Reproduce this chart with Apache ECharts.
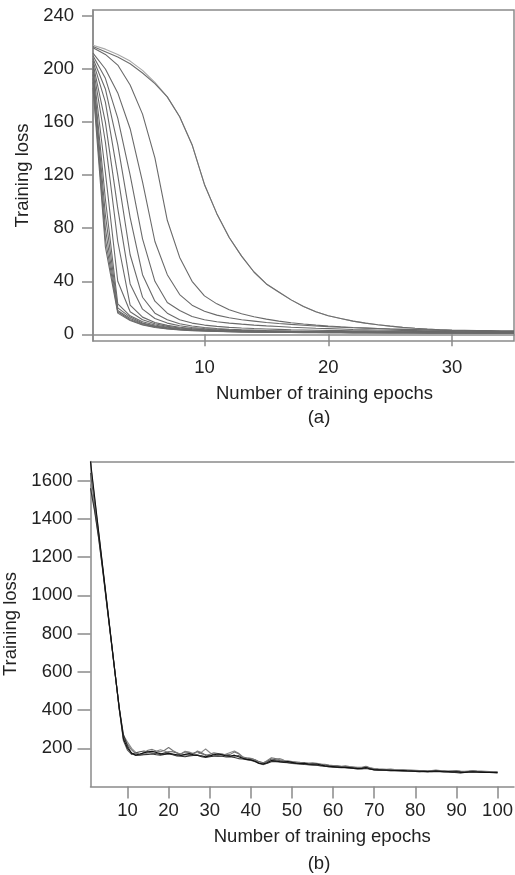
<!DOCTYPE html>
<html>
<head>
<meta charset="utf-8">
<script src="https://cdn.jsdelivr.net/npm/echarts@6/dist/echarts.min.js"></script>
<style>
html,body{margin:0;padding:0;background:#fff;}
#chart{width:515px;height:875px;}
</style>
</head>
<body>
<div id="chart"></div>
<script>
// ---------- Panel (a): training loss vs epoch, epochs 1..35 ----------
const epochsA = Array.from({length: 35}, (_, i) => i + 1);
const lossA_A  = [217,213,209,204,197,189,179,164,143,113,91,73,59,47,38,32,26,21,17,14,12,10,8.5,7.3,6.2,5.3,4.6,4,3.5,3.1,2.8,2.5,2.3,2.1,2];
const lossA_A2 = [218,215,211,206,199,190,179,164,143,113,91,73,59,47,38,32,26,21,17,14,12,10,8.5,7.3,6.2,5.3,4.6,4,3.5,3.1,2.8,2.5,2.3,2.1,2];
const lossA_B  = [216,211,203,188,166,133,86,58,40,29,23,18.5,15.5,13.3,11.5,10,8.8,7.8,7,6.3,5.7,5.2,4.8,4.4,4.1,3.8,3.5,3.3,3.1,2.9,2.7,2.6,2.5,2.4,2.3];
const lossA_F11 = [212,200,182,155,115,70,45,30,22,17.5,14.5,12.5,11,10,9,8.2,7.5,6.9,6.3,5.8,5.4,5,4.7,4.4,4.1,3.9,3.7,3.5,3.3,3.1,3,2.9,2.8,2.7,2.6];
const lossA_F10 = [210,193,163,120,72,40,24,18,13.5,11,9.5,8.5,7.7,7,6.4,5.9,5.4,5,4.6,4.3,4,3.7,3.5,3.3,3.1,2.9,2.8,2.7,2.6,2.5,2.4,2.3,2.2,2.2,2.1];
const lossA_F9 = [208,185,143,88,45,25,16,11,8.5,7,6,5.3,4.8,4.4,4.1,3.8,3.5,3.3,3.1,2.9,2.8,2.7,2.6,2.5,2.4,2.3,2.2,2.2,2.1,2.1,2,2,2,1.9,1.9];
const lossA_F8 = [206,175,120,60,28,16,11,8,6.3,5.2,4.4,3.9,3.5,3.2,2.9,2.7,2.5,2.4,2.3,2.2,2.1,2,2,1.9,1.9,1.8,1.8,1.8,1.7,1.7,1.7,1.6,1.6,1.6,1.6];
const lossA_F7 = [204,160,95,38,19,12,8.5,6.5,5.2,4.4,3.8,3.4,3.1,2.8,2.6,2.4,2.3,2.2,2.1,2,1.9,1.9,1.8,1.8,1.7,1.7,1.7,1.6,1.6,1.6,1.5,1.5,1.5,1.5,1.4];
const lossA_F6 = [202,145,70,22,13,9,6.8,5.4,4.4,3.8,3.3,3,2.7,2.5,2.3,2.2,2.1,2,1.9,1.8,1.8,1.7,1.7,1.6,1.6,1.6,1.5,1.5,1.5,1.4,1.4,1.4,1.4,1.3,1.3];
const lossA_F5 = [200,122,40,17,11,8,6,4.8,4,3.4,3,2.7,2.5,2.3,2.1,2,1.9,1.8,1.8,1.7,1.7,1.6,1.6,1.5,1.5,1.5,1.4,1.4,1.4,1.3,1.3,1.3,1.3,1.2,1.2];
const lossA_F4 = [198,102,23,14,9.5,7,5.4,4.3,3.6,3.1,2.8,2.5,2.3,2.1,2,1.9,1.8,1.7,1.7,1.6,1.6,1.5,1.5,1.4,1.4,1.4,1.3,1.3,1.3,1.2,1.2,1.2,1.2,1.1,1.1];
const lossA_F3 = [196,90,20,13,8.5,6.3,4.9,3.9,3.3,2.9,2.6,2.3,2.1,2,1.9,1.8,1.7,1.6,1.6,1.5,1.5,1.4,1.4,1.3,1.3,1.3,1.2,1.2,1.2,1.2,1.1,1.1,1.1,1.1,1.0];
const lossA_F2 = [193,80,18,12,8,6,4.6,3.7,3.1,2.7,2.4,2.2,2,1.9,1.8,1.7,1.6,1.5,1.5,1.4,1.4,1.3,1.3,1.3,1.2,1.2,1.2,1.1,1.1,1.1,1.1,1,1,1,1];
const lossA_F1 = [190,72,17,11,7.5,5.5,4.3,3.5,3,2.6,2.3,2.1,1.9,1.8,1.7,1.6,1.5,1.4,1.4,1.3,1.3,1.2,1.2,1.2,1.1,1.1,1.1,1,1,1,1,0.9,0.9,0.9,0.9];
const lossA_F0 = [186,66,16,10.5,7,5.2,4.1,3.3,2.8,2.5,2.2,2,1.8,1.7,1.6,1.5,1.4,1.3,1.3,1.2,1.2,1.1,1.1,1.1,1,1,1,0.9,0.9,0.9,0.9,0.8,0.8,0.8,0.8];
const seriesA = [lossA_A2, lossA_A, lossA_B, lossA_F11, lossA_F10, lossA_F9, lossA_F8, lossA_F7, lossA_F6, lossA_F5, lossA_F4, lossA_F3, lossA_F2, lossA_F1, lossA_F0];
const yTicksA = [0, 40, 80, 120, 160, 200, 240];
const xTicksA = [10, 20, 30];

// ---------- Panel (b): training loss vs epoch, epochs 1..100 ----------
const epochsB = Array.from({length: 100}, (_, i) => i + 1);
const lossB_1 = [1700,1515,1330,1145,960,775,590,410,250,200,
  175,165,170,176,182,184,178,172,170,174,
  170,166,162,168,172,166,162,160,156,160,
  166,170,166,160,158,164,156,148,142,140,
  132,122,118,126,136,134,130,128,130,126,
  122,120,121,117,116,118,112,108,106,104,
  102,100,101,99,96,94,95,99,92,88,
  87,86,86,85,84,83,84,82,81,80,
  80,79,78,80,81,79,77,78,76,77,
  75,74,76,77,76,75,74,74,73,73];
const lossB_2 = [1690,1505,1325,1140,955,770,590,400,255,220,
  192,172,168,178,190,194,186,182,190,204,
  188,176,170,180,178,168,186,178,162,168,
  176,172,170,166,168,180,172,154,150,148,
  140,128,122,136,150,146,140,134,134,130,
  128,126,125,122,124,122,118,116,112,110,
  110,106,108,104,102,100,101,106,98,94,
  92,91,90,91,89,88,88,86,86,85,
  84,84,82,84,86,84,83,81,82,83,
  80,79,81,83,81,80,80,78,78,77];
const lossB_3 = [1580,1450,1300,1130,950,770,585,405,268,232,
  200,178,166,168,176,178,184,192,186,176,
  168,164,172,184,180,172,166,180,196,178,
  164,158,160,170,178,186,174,156,142,136,
  130,120,114,122,136,144,146,138,124,120,
  118,116,118,114,112,110,112,106,102,100,
  100,104,98,96,94,92,94,104,96,86,
  84,85,84,83,84,82,81,81,79,79,
  78,80,77,77,80,82,79,76,75,72,
  68,73,78,81,78,76,76,75,73,72];
const lossB_4 = [1560,1440,1295,1125,945,765,585,410,272,212,
  172,162,164,166,168,170,166,164,168,170,
  166,160,158,156,160,162,164,156,152,156,
  158,160,158,154,156,152,146,144,140,138,
  132,120,116,122,130,130,128,126,124,122,
  120,118,115,114,113,111,108,106,104,102,
  100,98,98,96,94,92,92,94,90,86,
  86,85,84,83,83,82,81,80,80,79,
  78,77,77,78,79,78,76,76,75,76,
  73,73,75,76,75,74,73,73,72,71];
const lossB_5 = [1640,1480,1315,1135,950,770,590,405,240,190,
  168,176,182,186,180,174,172,168,176,182,
  182,176,164,166,164,174,182,172,166,160,
  170,172,168,164,160,158,162,150,148,146,
  140,130,124,132,144,140,136,132,130,128,
  126,124,122,122,120,118,116,113,110,108,
  106,104,104,102,100,98,98,102,96,92,
  90,89,88,88,87,86,86,85,84,83,
  82,82,81,82,83,82,80,80,79,81,
  79,78,79,81,80,79,78,77,77,76];
const seriesB = [lossB_3, lossB_5, lossB_2, lossB_4, lossB_1];
const yTicksB = [200, 400, 600, 800, 1000, 1200, 1400, 1600];
const xTicksB = [10, 20, 30, 40, 50, 60, 70, 80, 90, 100];

// ---------- styling (not data) ----------
const FONT = "'Liberation Sans', Arial, sans-serif";
const FS = 18.5;
const TXT = '#222';
const AX = '#8a8a8a';
const colorsA = ['#a8a8a8','#6e6e6e','#6a6a6a','#6a6a6a','#6a6a6a','#6a6a6a','#6a6a6a','#6a6a6a','#6a6a6a','#6a6a6a','#6a6a6a','#6a6a6a','#6a6a6a','#6a6a6a','#6a6a6a'];
const colorsB = ['#8a8a8a','#555','#777','#333','#111'];
const plain = v => String(v);

function axisCommon() {
  return {
    axisLine: {show: true, lineStyle: {color: AX, width: 1.5}},
    axisTick: {show: true, inside: false, length: 12, lineStyle: {color: AX, width: 1.5}},
    splitLine: {show: false},
    axisLabel: {color: TXT, fontSize: FS, fontFamily: FONT, formatter: plain},
    nameTextStyle: {color: TXT, fontSize: FS, fontFamily: FONT}
  };
}

const chart = echarts.init(document.getElementById('chart'), null, {renderer: 'canvas'});

const xA = Object.assign(axisCommon(), {
  type: 'value', gridIndex: 0, min: 1, max: 35,
  name: 'Number of training epochs', nameLocation: 'middle', nameGap: 43
});
xA.axisLabel = Object.assign(xA.axisLabel, {margin: 17, customValues: xTicksA});
xA.axisTick = Object.assign(xA.axisTick, {customValues: xTicksA});
xA.nameTextStyle.padding = [0, 0, 0, 42];

const yA = Object.assign(axisCommon(), {
  type: 'value', gridIndex: 0, min: -5, max: 244.5,
  name: 'Training loss', nameLocation: 'middle', nameGap: 47, nameRotate: 90
});
yA.axisLabel = Object.assign(yA.axisLabel, {margin: 19, customValues: yTicksA});
yA.axisTick = Object.assign(yA.axisTick, {length: 11, customValues: yTicksA});

const xB = Object.assign(axisCommon(), {
  type: 'value', gridIndex: 1, min: 1, max: 104,
  name: 'Number of training epochs', nameLocation: 'middle', nameGap: 41
});
xB.axisLabel = Object.assign(xB.axisLabel, {margin: 15, customValues: xTicksB});
xB.axisTick = Object.assign(xB.axisTick, {customValues: xTicksB});
xB.nameTextStyle.padding = [0, 0, 0, 40];

const xBtop = {
  type: 'value', gridIndex: 1, min: 1, max: 104, position: 'top',
  axisLine: {show: true, lineStyle: {color: AX, width: 1.5}},
  axisTick: {show: false}, axisLabel: {show: false}, splitLine: {show: false}
};

const yB = Object.assign(axisCommon(), {
  type: 'value', gridIndex: 1, min: 0, max: 1700,
  name: 'Training loss', nameLocation: 'middle', nameGap: 57, nameRotate: 90
});
yB.axisLabel = Object.assign(yB.axisLabel, {margin: 18, customValues: yTicksB});
yB.axisTick = Object.assign(yB.axisTick, {length: 13, customValues: yTicksB});

const series = [];
seriesA.forEach((arr, i) => {
  series.push({
    type: 'line', xAxisIndex: 0, yAxisIndex: 0, showSymbol: false, symbol: 'none',
    data: epochsA.map((e, j) => [e, arr[j]]),
    lineStyle: {color: colorsA[i], width: 1.1},
    silent: true, z: 2
  });
});
seriesB.forEach((arr, i) => {
  series.push({
    type: 'line', xAxisIndex: 1, yAxisIndex: 1, showSymbol: false, symbol: 'none',
    data: epochsB.map((e, j) => [e, arr[j]]),
    lineStyle: {color: colorsB[i], width: 1.1},
    silent: true, z: 2
  });
});

chart.setOption({
  animation: false,
  backgroundColor: '#fff',
  textStyle: {fontFamily: FONT},
  title: [
    {text: '(a)', left: 314, top: 403, textAlign: 'center',
     textStyle: {color: TXT, fontSize: FS, fontWeight: 'normal', fontFamily: FONT}},
    {text: '(b)', left: 314, top: 849, textAlign: 'center',
     textStyle: {color: TXT, fontSize: FS, fontWeight: 'normal', fontFamily: FONT}}
  ],
  grid: [
    {left: 93, top: 10, width: 421, height: 331, show: true, borderColor: AX, borderWidth: 1.5,
     backgroundColor: 'transparent', containLabel: false, outerBoundsMode: 'none'},
    {left: 90.5, top: 461.5, width: 423.5, height: 325, show: false,
     containLabel: false, outerBoundsMode: 'none'}
  ],
  xAxis: [xA, xB, xBtop],
  yAxis: [yA, yB],
  series: series
});
</script>
</body>
</html>
